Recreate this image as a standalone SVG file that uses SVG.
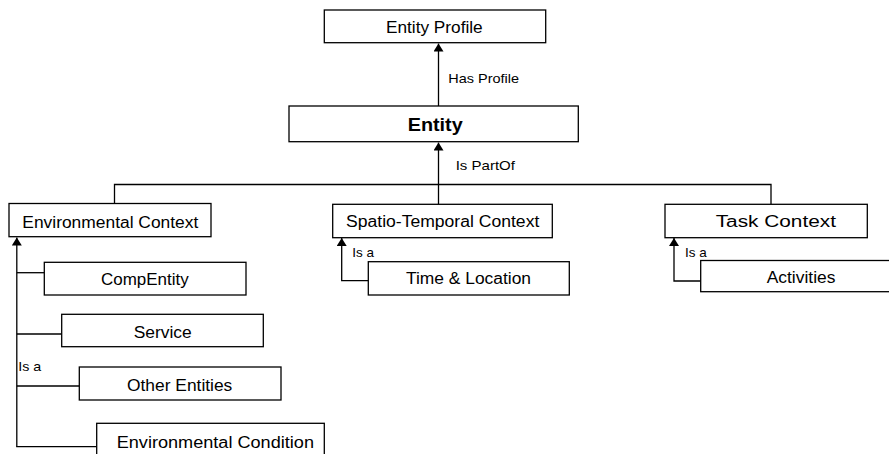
<svg xmlns="http://www.w3.org/2000/svg" width="889" height="454" viewBox="0 0 889 454">
<style>
.box{fill:#fff;stroke:#000;stroke-width:1.3}
.t{font-family:"Liberation Sans",Arial,sans-serif;font-size:16px;fill:#000}
.b{font-weight:bold;font-size:19px}
.s{font-family:"Liberation Sans",Arial,sans-serif;font-size:13px;fill:#000}
.c{fill:none;stroke:#000;stroke-width:1.3}
</style>
<defs>
<marker id="ah" viewBox="0 0 8 10" refX="8" refY="5" markerWidth="8" markerHeight="10" markerUnits="userSpaceOnUse" orient="auto">
<path d="M0,0 L8,5 L0,10 Z" fill="#000"/>
</marker>
</defs>
<rect width="889" height="454" fill="#fff"/>
<g id="connectors">
<line class="c" x1="438.5" y1="106" x2="438.5" y2="43.5" marker-end="url(#ah)"/>
<line class="c" x1="438.5" y1="204" x2="438.5" y2="142.5" marker-end="url(#ah)"/>
<polyline class="c" points="114.5,203.5 114.5,184.5 771,184.5 771,204"/>
<line class="c" x1="16.8" y1="446.7" x2="16.8" y2="237.5" marker-end="url(#ah)"/>
<line class="c" x1="16.8" y1="272.7" x2="44.3" y2="272.7"/>
<line class="c" x1="16.8" y1="334" x2="61.7" y2="334"/>
<line class="c" x1="16.8" y1="386" x2="79.3" y2="386"/>
<line class="c" x1="16.2" y1="446.7" x2="96.7" y2="446.7"/>
<polyline class="c" points="368.3,280.7 341.7,280.7 341.7,238" marker-end="url(#ah)"/>
<polyline class="c" points="700.7,281 674,281 674,238" marker-end="url(#ah)"/>
<text class="s" x="448.3" y="82.7" textLength="70.7" lengthAdjust="spacingAndGlyphs">Has Profile</text>
<text class="s" x="455.7" y="170" textLength="59.3" lengthAdjust="spacingAndGlyphs">Is PartOf</text>
<text class="s" x="18.3" y="370.7" textLength="23" lengthAdjust="spacingAndGlyphs">Is a</text>
<text class="s" x="352.3" y="256.7" textLength="21.7" lengthAdjust="spacingAndGlyphs">Is a</text>
<text class="s" x="685" y="256.7" textLength="21.7" lengthAdjust="spacingAndGlyphs">Is a</text>
</g>
<g id="entity-profile">
<rect class="box" x="324.3" y="10" width="221.4" height="32.7"/>
<text class="t" x="386" y="33.3" textLength="96.7" lengthAdjust="spacingAndGlyphs">Entity Profile</text>
</g>
<g id="entity">
<rect class="box" x="289" y="106" width="289.3" height="35.7"/>
<text class="t b" x="407.7" y="131" textLength="55" lengthAdjust="spacingAndGlyphs">Entity</text>
</g>
<g id="environmental-context">
<rect class="box" x="9" y="203.5" width="202" height="33.2"/>
<text class="t" x="22.3" y="227.7" textLength="176" lengthAdjust="spacingAndGlyphs">Environmental Context</text>
</g>
<g id="spatio-temporal-context">
<rect class="box" x="332.7" y="204.3" width="219.6" height="33.4"/>
<text class="t" x="346" y="226.7" textLength="193.3" lengthAdjust="spacingAndGlyphs">Spatio-Temporal Context</text>
</g>
<g id="task-context">
<rect class="box" x="665" y="204.3" width="202.3" height="33.4"/>
<text class="t" x="715.7" y="227.3" textLength="120.3" lengthAdjust="spacingAndGlyphs">Task Context</text>
</g>
<g id="compentity">
<rect class="box" x="44.3" y="262.3" width="201.7" height="32.7"/>
<text class="t" x="101" y="285" textLength="87.7" lengthAdjust="spacingAndGlyphs">CompEntity</text>
</g>
<g id="service">
<rect class="box" x="61.7" y="314.3" width="201.6" height="32.4"/>
<text class="t" x="133.7" y="338.3" textLength="58" lengthAdjust="spacingAndGlyphs">Service</text>
</g>
<g id="other-entities">
<rect class="box" x="79.3" y="367" width="201.7" height="33"/>
<text class="t" x="127" y="390.7" textLength="105.3" lengthAdjust="spacingAndGlyphs">Other Entities</text>
</g>
<g id="environmental-condition">
<rect class="box" x="96.7" y="423.3" width="227.6" height="40"/>
<text class="t" x="116.7" y="448" textLength="197.3" lengthAdjust="spacingAndGlyphs">Environmental Condition</text>
</g>
<g id="time-location">
<rect class="box" x="368.3" y="261.7" width="201" height="33.3"/>
<text class="t" x="406" y="284.3" textLength="125" lengthAdjust="spacingAndGlyphs">Time &amp; Location</text>
</g>
<g id="activities">
<rect class="box" x="700.7" y="260.5" width="200" height="31.2"/>
<text class="t" x="766.7" y="283.3" textLength="68.7" lengthAdjust="spacingAndGlyphs">Activities</text>
</g>
</svg>
